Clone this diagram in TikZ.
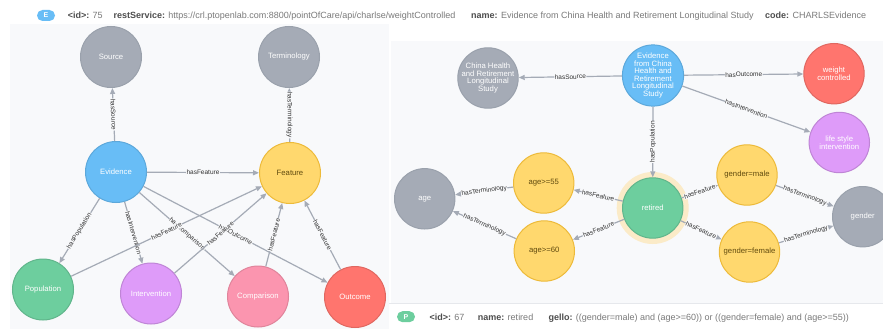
\documentclass[tikz,border=0pt]{standalone}
\usepackage{fontspec}
\setmainfont{Liberation Sans}
\usetikzlibrary{arrows.meta}
\definecolor{panel}{HTML}{F8F9FB}
\definecolor{edgec}{HTML}{A5ABB6}
\definecolor{gfill}{HTML}{A5ABB6}\definecolor{gdraw}{HTML}{9AA1AC}
\definecolor{bfill}{HTML}{68BDF6}\definecolor{bdraw}{HTML}{5CA8DB}
\definecolor{yfill}{HTML}{FFD86E}\definecolor{ydraw}{HTML}{EDBA39}
\definecolor{ytext}{HTML}{604A0E}
\definecolor{grfill}{HTML}{6DCE9E}\definecolor{grdraw}{HTML}{60B58B}
\definecolor{pfill}{HTML}{DE9BF9}\definecolor{pdraw}{HTML}{BF85D6}
\definecolor{kfill}{HTML}{FB95AF}\definecolor{kdraw}{HTML}{E0849B}
\definecolor{rfill}{HTML}{FF756E}\definecolor{rdraw}{HTML}{E06760}
\definecolor{halo}{HTML}{FBEBC8}
\definecolor{keyc}{HTML}{4D4D4D}\definecolor{valc}{HTML}{7A7A7A}
\definecolor{labc}{HTML}{333333}
\definecolor{linec}{HTML}{E6E8EC}
\begin{document}
\begin{tikzpicture}[x=1pt,y=-1pt,
  nd/.style={circle, minimum size=61pt, inner sep=0pt, line width=1pt, align=center,
    font=\fontsize{7.7}{7.6}\selectfont, text=white},
  ngray/.style={nd, fill=gfill, draw=gdraw},
  nblue/.style={nd, fill=bfill, draw=bdraw},
  nyel/.style={nd, fill=yfill, draw=ydraw, text=ytext},
  ngreen/.style={nd, fill=grfill, draw=grdraw},
  npurp/.style={nd, fill=pfill, draw=pdraw},
  npink/.style={nd, fill=kfill, draw=kdraw},
  nred/.style={nd, fill=rfill, draw=rdraw},
  rel/.style={draw=edgec, line width=1.2pt, -{Triangle[length=6pt,width=5pt]}},
  elab/.style={font=\fontsize{6.5}{6.5}\selectfont, fill=panel, inner sep=0.5pt, text=labc, midway},
  hk/.style={anchor=base west, inner sep=0pt, font=\fontsize{9}{9}\selectfont, text=valc},
  badge/.style={rectangle, rounded corners=5.5pt, minimum width=18pt, minimum height=11pt,
    inner sep=0pt, text=white, font=\bfseries\fontsize{7}{7}\selectfont}
]
\useasboundingbox (0,0) rectangle (883,329);
\clip (0,0) rectangle (883,329);
\fill[white] (0,0) rectangle (883,329);
\fill[panel] (10,24) rectangle (389,329);
\fill[panel] (391,41) rectangle (883,303);
\draw[linec, line width=0.8pt] (389,303.5) -- (883,303.5);

% header
\node[badge, fill=bfill] (bE) at (46,15.5) {E};
\node[hk] (h1) at (67.7,19) {\textbf{\color{keyc}<id>:} 75};
\node[hk] (h2) at (113.3,19) {\textbf{\color{keyc}restService:} https://crl.ptopenlab.com:8800/pointOfCare/api/charlse/weightControlled};
\node[hk] (h3) at (471,19) {\textbf{\color{keyc}name:} Evidence from China Health and Retirement Longitudinal Study};
\node[hk] (h4) at (765,19) {\textbf{\color{keyc}code:} CHARLSEvidence};

% footer
\node[badge, fill=grfill] (bP) at (406,316.7) {P};
\node[hk] (f1) at (429.3,320) {\textbf{\color{keyc}<id>:} 67};
\node[hk] (f2) at (477.7,320) {\textbf{\color{keyc}name:} retired};
\node[hk] (f3) at (548.3,320) {\textbf{\color{keyc}gello:} ((gender=male) and (age>=60)) or ((gender=female) and (age>=55))};

% left graph
\node[ngray] (src) at (111,57) {Source};
\node[ngray] (term) at (289,57) {Terminology};
\node[nblue] (ev) at (116,172) {Evidence};
\node[nyel] (feat) at (290,173) {Feature};
\node[ngreen] (pop) at (43,289.5) {Population};
\node[npurp] (int) at (151,293.5) {Intervention};
\node[npink] (cmp) at (258,296.5) {Comparison};
\node[nred] (out) at (355,297) {Outcome};

\draw[rel] (ev) -- node[elab, sloped] {hasSource} (src);
\draw[rel] (feat) -- node[elab, sloped] {hasTerminology} (term);
\draw[rel] (ev) -- node[elab, sloped] {hasFeature} (feat);
\draw[rel] (ev) -- node[elab, sloped] {hasPopulation} (pop);
\draw[rel] (ev) -- node[elab, sloped] {hasIntervention} (int);
\draw[rel] (ev) -- node[elab, sloped] {hasComparison} (cmp);
\draw[rel] (ev) -- node[elab, sloped] {hasOutcome} (out);
\draw[rel] (pop) -- node[elab, sloped] {hasFeature} (feat);
\draw[rel] (int) -- node[elab, sloped] {hasFeature} (feat);
\draw[rel] (cmp) -- node[elab, sloped] {hasFeature} (feat);
\draw[rel] (out) -- node[elab, sloped] {hasFeature} (feat);

% right graph
\fill[halo] (652.7,208) circle (36);
\tikzset{nd/.append style={minimum size=60.4pt}}
\node[ngray] (chs) at (488,78) {China Health\\and Retirement\\Longitudinal\\Study};
\node[nblue] (evr) at (653,75.5) {Evidence\\from China\\Health and\\Retirement\\Longitudinal\\Study};
\node[nred] (wc) at (834,73.7) {weight\\controlled};
\node[npurp] (ls) at (839.3,142.5) {life style\\intervention};
\node[ngray] (age) at (424.7,198.8) {age};
\node[nyel] (a55) at (543.7,183) {age>=55};
\node[nyel] (a60) at (544.3,251) {age>=60};
\node[ngreen] (ret) at (652.7,208) {retired};
\node[nyel] (gm) at (747,175) {gender=male};
\node[nyel] (gf) at (749.5,252) {gender=female};
\node[ngray] (gen) at (862.7,216.7) {gender};

\draw[rel] (evr) -- node[elab, sloped] {hasSource} (chs);
\draw[rel] (evr) -- node[elab, sloped] {hasOutcome} (wc);
\draw[rel] (evr) -- node[elab, sloped] {hasIntervention} (ls);
\draw[rel] (evr) -- node[elab, rotate=90] {hasPopulation} (ret);
\draw[rel] (ret) -- node[elab, sloped] {hasFeature} (a55);
\draw[rel] (ret) -- node[elab, sloped] {hasFeature} (a60);
\draw[rel] (ret) -- node[elab, sloped] {hasFeature} (gm);
\draw[rel] (ret) -- node[elab, sloped] {hasFeature} (gf);
\draw[rel] (a55) -- node[elab, sloped] {hasTerminology} (age);
\draw[rel] (a60) -- node[elab, sloped] {hasTerminology} (age);
\draw[rel] (gm) -- node[elab, sloped] {hasTerminology} (gen);
\draw[rel] (gf) -- node[elab, sloped] {hasTerminology} (gen);
\end{tikzpicture}
\end{document}
